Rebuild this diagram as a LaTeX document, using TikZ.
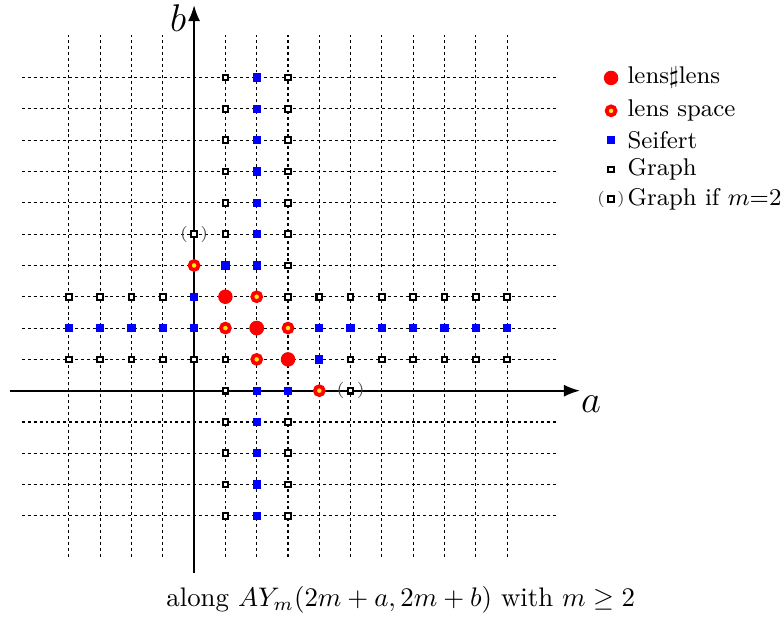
\documentclass[tikz,border=0pt]{standalone}
\usepackage{amsmath,amssymb}
\usepackage{tikz}
\usetikzlibrary{arrows.meta, positioning}

\begin{document}
\begin{tikzpicture}[
    x=0.41cm, y=0.41cm,
    every node/.style={font=\small},
    gridline/.style={dash pattern=on 1.1pt off 1.1pt, line width=0.4pt},
    axis/.style={-{Latex[length=6pt,width=4.5pt]}, line width=0.8pt},
    lenslens/.style={circle, fill=red, inner sep=0pt, minimum size=5.4pt},
    lensspace/.style={circle, draw=red, fill=yellow, line width=1.4pt, inner sep=0pt, minimum size=3.3pt},
    seifert/.style={rectangle, fill=blue, inner sep=0pt, minimum size=3.1pt},
    graphpt/.style={rectangle, draw=black, fill=white, line width=0.75pt, inner sep=0pt, minimum size=2.1pt},
    paren/.style={font=\fontsize{6}{7}\selectfont, inner sep=0pt, text=black!75},
    keytext/.style={anchor=west, inner sep=0pt}
]
    \useasboundingbox (-6.2,-7.36) rectangle (18.78,12.48);

    % Grid
    \foreach \k in {-4,...,-1,1,2,...,10} {
        \draw[gridline] (\k,-5.3) -- (\k,11.35);
        \draw[gridline] (-5.5,\k) -- (11.6,\k);
    }

    % Axes
    \coordinate (xstart) at (-5.88,0);
    \coordinate (xend) at (12.33,0);
    \coordinate (ystart) at (0,-5.82);
    \coordinate (yend) at (0,12.32);
    \draw[axis] (xstart) -- (xend);
    \draw[axis] (ystart) -- (yend);
    \node[font=\Large] (alabel) at (12.68,-0.42) {$a$};
    \node[font=\Large] (blabel) at (-0.51,11.9) {$b$};

    % Graph manifolds (symmetric in a and b)
    \foreach \u/\v in {1/0,1/1,3/3} {
        \node[graphpt] at (\u,\v) {};
        \node[graphpt] at (\v,\u) {};
    }
    \foreach \k in {-4,...,-1} {
        \node[graphpt] at (1,\k) {}; \node[graphpt] at (\k,1) {};
        \node[graphpt] at (3,\k) {}; \node[graphpt] at (\k,3) {};
    }
    \foreach \k in {4,...,10} {
        \node[graphpt] at (3,\k) {}; \node[graphpt] at (\k,3) {};
    }
    \foreach \k in {5,...,10} {
        \node[graphpt] at (1,\k) {}; \node[graphpt] at (\k,1) {};
    }

    % Seifert
    \foreach \u/\v in {1/4,0/3,0/2} {
        \node[seifert] at (\u,\v) {};
        \node[seifert] at (\v,\u) {};
    }
    \foreach \k in {-4,...,-1,4,5,...,10} {
        \node[seifert] at (2,\k) {}; \node[seifert] at (\k,2) {};
    }

    % Lens spaces
    \foreach \u/\v in {0/4,2/3,1/2} {
        \node[lensspace] at (\u,\v) {};
        \node[lensspace] at (\v,\u) {};
    }

    % lens # lens
    \foreach \u/\v in {1/3,2/2} {
        \node[lenslens] at (\u,\v) {};
        \node[lenslens] at (\v,\u) {};
    }

    % Graph if m=2
    \foreach \u/\v in {0/5,5/0} {
        \node[paren] at (\u,\v) {(\hspace{4.6pt})};
        \node[graphpt] at (\u,\v) {};
    }

    % Legend
    \node[lenslens] (keyll) at (13.32,9.99) {};
    \node[keytext] (txtll) at (13.83,9.99) {lens$\sharp$lens};
    \node[lensspace] (keyls) at (13.32,8.94) {};
    \node[keytext] (txtls) at (13.83,8.94) {lens space};
    \node[seifert] (keysf) at (13.32,8.01) {};
    \node[keytext] (txtsf) at (13.83,8.01) {Seifert};
    \node[graphpt] (keygr) at (13.32,7.07) {};
    \node[keytext] (txtgr) at (13.83,7.07) {Graph};
    \node[paren] (keyparen) at (13.32,6.12) {(\hspace{4.6pt})};
    \node[graphpt] (keygm) at (13.32,6.12) {};
    \node[keytext] (txtgm) at (13.83,6.12) {Graph if $m{=}2$};

    % Caption
    \node[font=\normalsize] (caption) at (6.6,-6.69) {along $AY_m(2m+a,2m+b)$ with $m\geq 2$};
\end{tikzpicture}
\end{document}
